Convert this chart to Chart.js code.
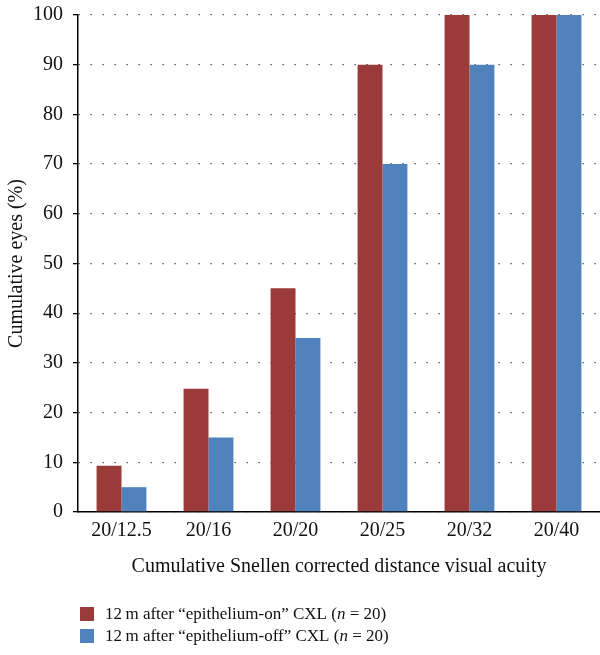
<!DOCTYPE html>
<html>
<head>
<meta charset="utf-8">
<script src="https://cdn.jsdelivr.net/npm/chart.js@4/dist/chart.umd.min.js"></script>
<style>
  html, body { margin: 0; padding: 0; background: #fff; }
  #wrap { width: 600px; height: 655px; position: relative; }
</style>
</head>
<body>
<div id="wrap"><canvas id="barchart"></canvas></div>
<script>
const categories = ['20/12.5', '20/16', '20/20', '20/25', '20/32', '20/40'];
const epiOn = [9.3, 24.8, 45, 90, 100, 100];
const epiOff = [5, 15, 35, 70, 90, 100];
const yTicks = [0, 10, 20, 30, 40, 50, 60, 70, 80, 90, 100];

const legendItems = [
    { color: '#9a3b3a', parts: ['12\u2009m after \u201cepithelium-on\u201d CXL (', 'n', ' = 20)'] },
    { color: '#5083be', parts: ['12\u2009m after \u201cepithelium-off\u201d CXL (', 'n', ' = 20)'] }
];

const serif = '"Liberation Serif", "DejaVu Serif", serif';

// legend with italic n, drawn under the axis title
const bottomLegend = {
    id: 'bottomLegend',
    afterDraw(chart) {
        const c = chart.ctx;
        c.save();
        c.textBaseline = 'middle';
        legendItems.forEach((item, i) => {
            const y = 614 + i * 22;
            c.fillStyle = item.color;
            c.fillRect(80, y - 7, 14, 14);
            let x = 105;
            item.parts.forEach((p, j) => {
                c.font = (j === 1 ? 'italic ' : '') + '17px ' + serif;
                c.fillStyle = '#111';
                c.fillText(p, x, y + 1);
                x += c.measureText(p).width;
            });
        });
        c.restore();
    }
};

const ctx = document.getElementById('barchart').getContext('2d');
const barchart = new Chart(ctx, {
    type: 'bar',
    data: {
        labels: categories,
        datasets: [{
            label: '12 m after “epithelium-on” CXL (n = 20)',
            data: epiOn,
            backgroundColor: '#9a3b3a',
            borderWidth: 0
        }, {
            label: '12 m after “epithelium-off” CXL (n = 20)',
            data: epiOff,
            backgroundColor: '#5083be',
            borderWidth: 0
        }]
    },
    options: {
        responsive: true,
        maintainAspectRatio: false,
        animation: false,
        datasets: {
            bar: { categoryPercentage: 0.573, barPercentage: 1 }
        },
        layout: { padding: { top: 0, right: 0, left: 2, bottom: 72 } },
        plugins: {
            legend: { display: false },
            tooltip: { enabled: false }
        },
        scales: {
            x: {
                afterFit(scale) { scale.height = 71; },
                grid: { display: false, drawTicks: false },
                border: { display: true, color: '#000', width: 1.5 },
                ticks: { color: '#111', font: { family: serif, size: 20 }, padding: 7 },
                title: {
                    display: true,
                    text: 'Cumulative Snellen corrected distance visual acuity',
                    color: '#111',
                    font: { family: serif, size: 20 },
                    padding: { top: 4, bottom: 4 }
                }
            },
            y: {
                min: 0,
                max: 100,
                afterFit(scale) { scale.width = 76; scale.paddingTop = 15; },
                afterBuildTicks(scale) { scale.ticks = yTicks.map(v => ({ value: v })); },
                grid: {
                    color: '#444',
                    lineWidth: 1.3,
                    drawTicks: true,
                    tickLength: 5,
                    tickColor: '#000',
                    tickWidth: 1.3,
                    tickBorderDash: []
                },
                border: { display: true, color: '#000', width: 1.5, dash: [1.3, 10.7] },
                ticks: { color: '#111', font: { family: serif, size: 20 }, padding: 10 },
                title: {
                    display: true,
                    text: 'Cumulative eyes (%)',
                    color: '#111',
                    font: { family: serif, size: 20 },
                    padding: { top: 3, bottom: 6 }
                }
            }
        }
    },
    plugins: [bottomLegend]
});
</script>
</body>
</html>
